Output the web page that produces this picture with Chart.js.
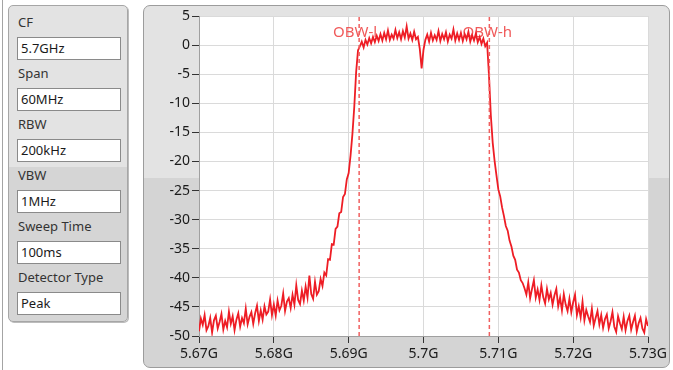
<!DOCTYPE html>
<html>
<head>
<meta charset="utf-8">
<script src="https://cdn.jsdelivr.net/npm/chart.js@4.4.0/dist/chart.umd.min.js"></script>
<style>
  html, body { margin: 0; padding: 0; background: #fff; }
  body { width: 673px; height: 370px; position: relative; overflow: hidden; font-family: 'Noto Sans', 'DejaVu Sans', sans-serif; }
  .edge { position: absolute; left: 2px; top: 0; width: 1px; height: 370px; background: #a4a4a4; }
  .panel { position: absolute; left: 8px; top: 5px; width: 118px; height: 315px; border: 1px solid #a6a6a6; border-radius: 5px;
           background: linear-gradient(#e3e3e3 0, #e3e3e3 161px, #d5d5d5 161px); box-shadow: 1px 1px 0 #bcbcbc; }
  .lbl { position: absolute; left: 9px; font-size: 13px; color: #333; line-height: 16px; }
  .box { position: absolute; left: 8px; width: 104px; height: 23px; box-sizing: border-box; border: 1px solid #8a8a8a;
         background: #fff; font-size: 13px; line-height: 21px; padding-left: 3px; color: #1a1a1a; }
  .frame { position: absolute; left: 143px; top: 5px; width: 525px; height: 361px; border: 1px solid #9c9c9c; border-radius: 7px;
           background: linear-gradient(#e3e3e3 0, #e3e3e3 172px, #d4d4d4 172px); }
  canvas { position: absolute; left: 0; top: 0; }
</style>
</head>
<body>
<div class="edge"></div>
<div class="panel" id="panel"></div>
<div class="frame"></div>
<canvas id="spectrum" width="673" height="370"></canvas>

<script>
// --- settings shown in the left panel ---
const settingNames = ['CF', 'Span', 'RBW', 'VBW', 'Sweep Time', 'Detector Type'];
const settingValues = ['5.7GHz', '60MHz', '200kHz', '1MHz', '100ms', 'Peak'];

// --- axes ---
const freqStart = 5.67;      // GHz
const freqStep = 0.00025;    // GHz between trace samples
const xTicks = [5.67, 5.68, 5.69, 5.70, 5.71, 5.72, 5.73];
const xTickLabels = ['5.67G', '5.68G', '5.69G', '5.7G', '5.71G', '5.72G', '5.73G'];
const yTicks = [5, 0, -5, -10, -15, -20, -25, -30, -35, -40, -45, -50];

// occupied bandwidth markers (GHz)
const obwLow = 5.6914;
const obwHigh = 5.7088;

// --- trace level (dBm) ---
const level = [
    // noise floor, left
    -49.2, -47.0, -48.1, -46.4, -49.0, -48.3, -46.9, -49.4, -47.3, -46.5, -48.7, -47.6,
    -46.2, -48.9, -47.4, -48.5, -45.8, -47.9, -46.6, -49.0, -47.2, -46.1, -48.4, -46.9,
    -47.8, -45.3, -48.0, -46.7, -45.9, -47.9, -46.1, -44.8, -47.4,
    -45.6, -47.2, -44.9, -46.3, -45.8, -43.7, -46.4,
    -44.6, -46.5, -43.9, -45.6, -44.8, -42.7, -45.7, -44.1, -43.5,
    -45.2, -42.9, -44.6, -41.3, -43.8, -44.5, -42.2,
    -43.9, -41.5, -43.4, -39.6, -42.8, -43.6, -40.7, -42.9,
    // left skirt
    -42.3, -40.2, -41.4, -39.1, -39.6, -36.8, -36.9, -34.2, -34.3, -31.6, -31.2,
    -28.9, -28.7, -26.1, -25.6, -23.1, -22.0, -19.0, -15.3, -10.6, -4.6, -0.9,
    // passband
    -0.2, 0.6, -0.4, 0.9, 0.1, 1.2, 0.3, 1.4, 0.5, 1.6,
    0.7, 1.9, 0.8, 2.1, 1.0, 2.5, 0.9, 1.8, 1.1, 2.6, 1.2, 2.2,
    1.0, 2.4, 1.3, 3.2, 1.1, 2.0, 0.9, 2.3, 1.0, 1.4,
    -0.6, -4.0, -0.8, 0.9,
    1.8, 0.6, 2.1, 0.8, 1.7, 0.9, 2.4, 0.7, 1.9, 1.0, 2.2, 0.6, 1.8, 1.1, 2.7, 0.8, 2.0, 0.9, 2.1,
    0.7, 1.9, 1.0, 2.3, 0.6, 1.7, 0.8, 2.0, 0.5, 1.4, 0.2, 1.1, -0.2, 0.4,
    // right skirt
    -5.2, -12.1, -16.8, -19.9, -22.4, -24.8, -26.0, -27.9, -29.4, -31.1,
    -31.9, -33.6, -34.6, -36.2, -36.9, -38.6, -39.1, -40.4, -40.9, -41.8,
    // noise floor, right
    -42.9, -40.8, -43.5, -41.9, -40.4, -43.4, -42.0, -43.8,
    -41.3, -43.3, -44.4, -41.9, -43.7, -42.6, -44.6,
    -43.0, -41.9, -44.9, -43.4, -45.6, -42.8, -44.6, -45.7, -43.6,
    -45.9, -44.2, -42.9, -46.4, -44.9, -46.8, -44.1, -47.3, -45.5, -46.6,
    -47.6, -45.3, -48.2, -46.9, -45.7, -48.0, -46.4, -48.6, -47.1,
    -46.3, -48.7, -47.5, -45.9, -48.4, -49.3, -46.6, -47.8, -48.8, -46.7, -49.0, -47.4, -46.5,
    -48.9, -47.6, -46.5, -49.2, -47.8, -46.9, -48.7, -49.4, -47.1, -48.3
];

// --- left settings panel ---
const panel = document.getElementById('panel');
settingNames.forEach((name, i) => {
    const lbl = document.createElement('div');
    lbl.className = 'lbl';
    lbl.style.top = (8 + i * 51) + 'px';
    lbl.textContent = name;
    panel.appendChild(lbl);
    const box = document.createElement('div');
    box.className = 'box';
    box.style.top = (31 + i * 51) + 'px';
    box.textContent = settingValues[i];
    panel.appendChild(box);
});

// --- chart ---
const trace = level.map((v, i) => ({ x: freqStart + i * freqStep, y: v }));
const tickFont = { family: "'Noto Sans', sans-serif", size: 14 };

const obwPlugin = {
    id: 'obw',
    beforeDraw(chart) {
        const { ctx, chartArea: a } = chart;
        ctx.save();
        ctx.fillStyle = '#ffffff';
        ctx.fillRect(a.left, a.top, a.right - a.left, a.bottom - a.top);
        ctx.restore();
    },
    beforeDatasetsDraw(chart) {
        const { ctx, scales } = chart;
        ctx.save();
        ctx.font = "15px 'Noto Sans', sans-serif";
        ctx.fillStyle = '#f05a5a';
        ctx.textAlign = 'center';
        ctx.textBaseline = 'alphabetic';
        const yb = scales.y.getPixelForValue(1.4);
        ctx.fillText('OBW-l', scales.x.getPixelForValue(obwLow) - 4, yb);
        ctx.fillText('OBW-h', scales.x.getPixelForValue(obwHigh) - 2, yb);
        ctx.restore();
    }
};

const markerStyle = {
    borderColor: '#f06060',
    borderWidth: 1.5,
    borderDash: [4, 3],
    pointRadius: 0
};

new Chart(document.getElementById('spectrum').getContext('2d'), {
    type: 'line',
    data: {
        datasets: [
            { data: [{ x: obwLow, y: -50 }, { x: obwLow, y: 5 }], ...markerStyle },
            { data: [{ x: obwHigh, y: -50 }, { x: obwHigh, y: 5 }], ...markerStyle },
            {
                label: 'Spectrum',
                data: trace,
                borderColor: '#ee1d25',
                borderWidth: 1.8,
                pointRadius: 0,
                tension: 0
            }
        ]
    },
    options: {
        responsive: false,
        animation: false,
        layout: { padding: { left: 0, top: 16, right: 25, bottom: 0 } },
        plugins: { legend: { display: false }, tooltip: { enabled: false } },
        scales: {
            x: {
                type: 'linear',
                min: 5.67,
                max: 5.73,
                afterFit(s) { s.height = 34; },
                afterBuildTicks(s) { s.ticks = xTicks.map(v => ({ value: v })); },
                ticks: {
                    callback: (v, i) => xTickLabels[i],
                    font: tickFont,
                    color: '#1a1a1a',
                    padding: 3,
                    maxRotation: 0,
                    autoSkip: false
                },
                grid: { color: '#dadada', tickColor: '#333', tickLength: 7, lineWidth: 1 },
                border: { color: '#a0a0a0' }
            },
            y: {
                min: -50,
                max: 5,
                afterFit(s) { s.width = 199; },
                afterBuildTicks(s) { s.ticks = yTicks.map(v => ({ value: v })); },
                ticks: { font: tickFont, color: '#1a1a1a', padding: 2 },
                grid: { color: '#dadada', tickColor: '#333', tickLength: 7, lineWidth: 1 },
                border: { color: '#a0a0a0' }
            }
        }
    },
    plugins: [obwPlugin]
});
</script>
</body>
</html>
